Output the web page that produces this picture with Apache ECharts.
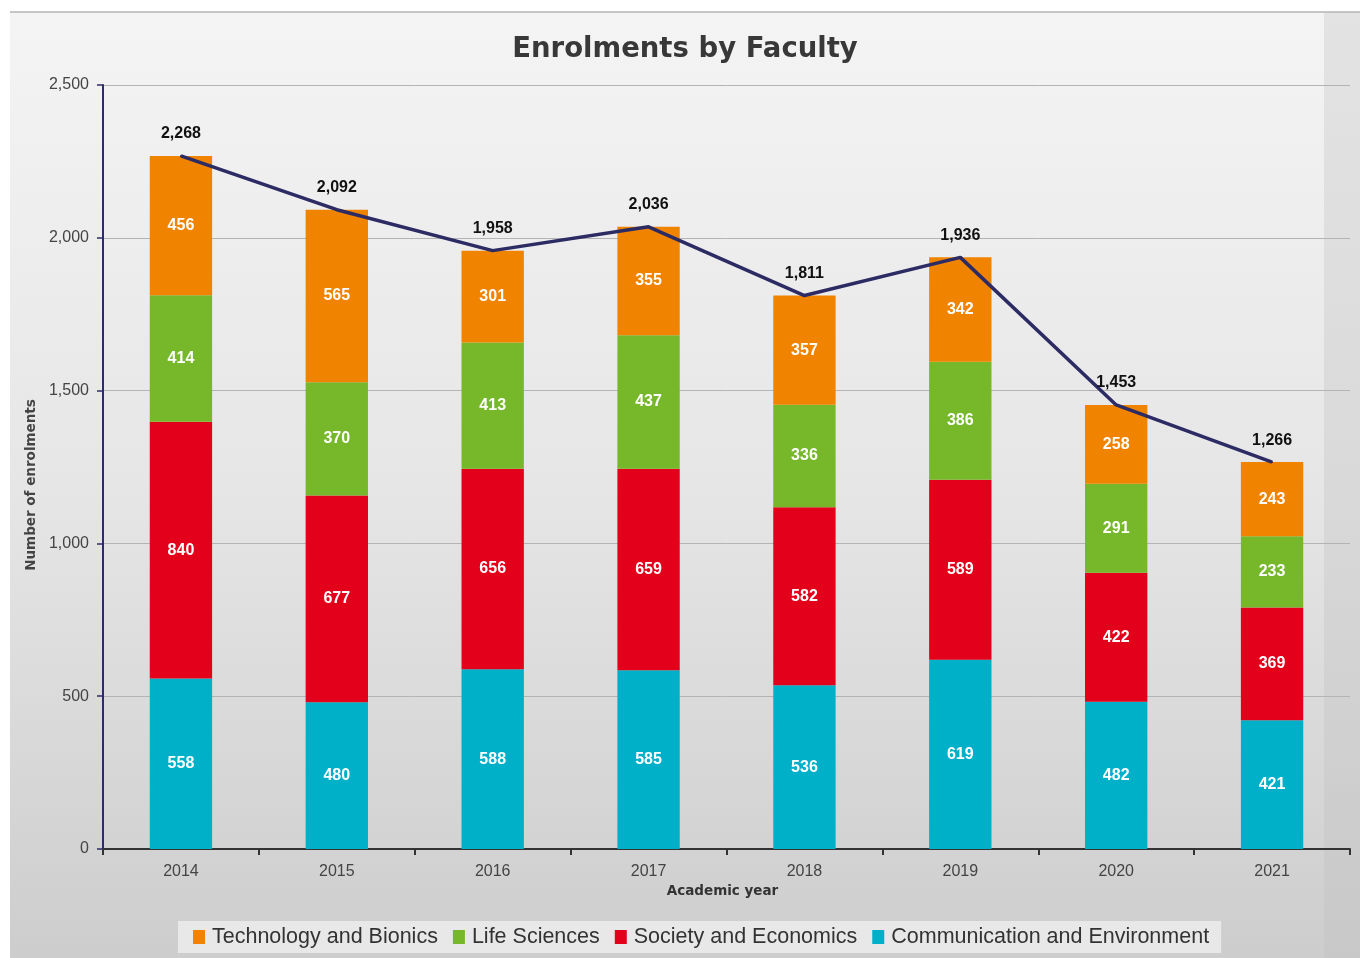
<!DOCTYPE html>
<html>
<head>
<meta charset="utf-8">
<title>Enrolments by Faculty</title>
<script src="https://cdn.jsdelivr.net/npm/echarts@6/dist/echarts.min.js"></script>
<style>
  html, body { margin: 0; padding: 0; background: #fff; }
  #main { width: 1370px; height: 958px; }
</style>
</head>
<body>
<div id="main"></div>
<script>
var years = ['2014', '2015', '2016', '2017', '2018', '2019', '2020', '2021'];
var technology = [456, 565, 301, 355, 357, 342, 258, 243];
var lifeSciences = [414, 370, 413, 437, 336, 386, 291, 233];
var society = [840, 677, 656, 659, 582, 589, 422, 369];
var communication = [558, 480, 588, 585, 536, 619, 482, 421];
var totals = [2268, 2092, 1958, 2036, 1811, 1936, 1453, 1266];

var fontFamily = '"Liberation Sans", Arial, sans-serif';
var wideBold = '"DejaVu Sans", Verdana, sans-serif';

function fmt(v) {
  return Number(v).toLocaleString('en-US');
}

// white bold labels in the bar segments
var barLabel = {
  show: true,
  position: 'inside',
  color: '#fff',
  fontWeight: 'bold',
  fontSize: 16,
  fontFamily: fontFamily
};

function barSeries(name, data, color) {
  return {
    name: name,
    type: 'bar',
    stack: 'total',
    data: data,
    barWidth: '40%',
    itemStyle: { color: color },
    label: barLabel
  };
}

var chartDom = document.getElementById('main');
var myChart = echarts.init(chartDom);

var option = {
  animation: false,
  graphic: [
    {
      type: 'rect',
      z: -10,
      shape: { x: 10, y: 12, width: 1350, height: 946 },
      style: {
        fill: new echarts.graphic.LinearGradient(0, 0, 0, 1, [
          { offset: 0, color: '#f4f4f4' },
          { offset: 0.5, color: '#e6e6e6' },
          { offset: 1, color: '#cdcdcd' }
        ])
      }
    },
    {
      type: 'rect',
      z: -9,
      shape: { x: 1324, y: 12, width: 36, height: 946 },
      style: { fill: 'rgba(190,190,190,0.3)' }
    },
    {
      type: 'line',
      z: -8,
      shape: { x1: 10, y1: 12, x2: 1360, y2: 12 },
      style: { stroke: '#b5b5b5', lineWidth: 1.5 }
    }
  ],
  title: {
    text: 'Enrolments by Faculty',
    left: 'center',
    top: 31,
    textStyle: {
      fontFamily: wideBold,
      fontWeight: 'bold',
      fontSize: 27.5,
      color: '#383838'
    }
  },
  legend: {
    bottom: 5,
    left: 178,
    data: ['Technology and Bionics', 'Life Sciences', 'Society and Economics', 'Communication and Environment'],
    itemWidth: 12,
    itemHeight: 14,
    itemGap: 15,
    padding: [5, 12, 5, 15],
    backgroundColor: 'rgba(236,236,236,0.85)',
    icon: 'rect',
    textStyle: {
      fontFamily: fontFamily,
      fontSize: 21.5,
      color: '#333',
      padding: [0, 0, 0, 2]
    }
  },
  grid: {
    left: 103,
    right: 20,
    top: 85,
    bottom: 109,
    containLabel: false
  },
  xAxis: {
    type: 'category',
    data: years,
    name: 'Academic year',
    nameLocation: 'middle',
    nameGap: 35,
    nameTextStyle: {
      fontFamily: wideBold,
      fontWeight: 'bold',
      fontSize: 13.5,
      color: '#333',
      padding: [0, 8, 0, 0]
    },
    axisLine: { lineStyle: { color: '#333', width: 2 } },
    axisTick: { show: true, length: 6, lineStyle: { color: '#333', width: 2 } },
    axisLabel: {
      margin: 15,
      fontFamily: fontFamily,
      fontSize: 16,
      color: '#444'
    }
  },
  yAxis: {
    type: 'value',
    min: 0,
    max: 2500,
    interval: 500,
    name: 'Number of enrolments',
    nameLocation: 'middle',
    nameGap: 64,
    nameTextStyle: {
      fontFamily: wideBold,
      fontWeight: 'bold',
      fontSize: 13.5,
      color: '#444',
      padding: [0, 36, 0, 0]
    },
    axisLine: { show: true, lineStyle: { color: '#2d2b6a', width: 2 } },
    axisTick: { show: true, length: 6, lineStyle: { color: '#2d2b6a', width: 1.5 } },
    splitLine: { lineStyle: { color: '#b4b4b4', width: 1 } },
    axisLabel: {
      margin: 14,
      fontFamily: fontFamily,
      fontSize: 16,
      color: '#444',
      formatter: function (v) { return fmt(v); }
    }
  },
  series: [
    barSeries('Communication and Environment', communication, '#00b0c9'),
    barSeries('Society and Economics', society, '#e2001a'),
    barSeries('Life Sciences', lifeSciences, '#76b82a'),
    barSeries('Technology and Bionics', technology, '#f08300'),
    {
      name: 'Total',
      type: 'line',
      data: totals,
      symbol: 'circle',
      symbolSize: 2,
      showSymbol: true,
      lineStyle: { color: '#2d2b63', width: 3.5 },
      itemStyle: { color: '#2d2b63' },
      z: 5,
      label: {
        show: true,
        position: 'top',
        distance: 13,
        color: '#111',
        fontWeight: 'bold',
        fontSize: 16,
        fontFamily: fontFamily,
        formatter: function (p) { return fmt(p.value); }
      },
      labelLayout: { hideOverlap: false }
    }
  ]
};

myChart.setOption(option);
</script>
</body>
</html>
